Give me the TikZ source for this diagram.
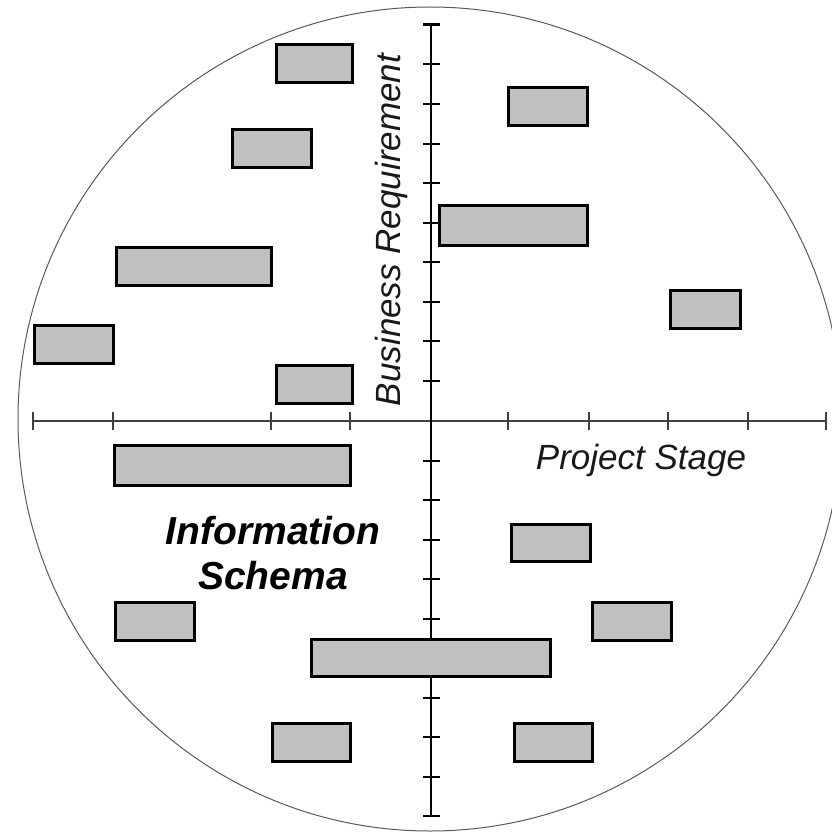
\documentclass[tikz,border=0pt]{standalone}
\usepackage{fontspec}
\setmainfont{Liberation Sans}
\begin{document}
\begin{tikzpicture}[x=1pt,y=-1pt,
  bx/.style={draw=black, fill=boxgray, line width=3pt, inner sep=0pt, minimum height=38pt},
  vtick/.style={line width=2pt, black},
  htick/.style={line width=1.6pt, black!75},
  lbl/.style={font=\fontsize{35}{42}\selectfont\itshape, text=black!90, inner sep=0pt},
  blbl/.style={font=\fontsize{39}{46}\selectfont\bfseries\itshape, text=black, inner sep=0pt}]
\definecolor{boxgray}{RGB}{192,192,192}
\useasboundingbox (0,0) rectangle (832,832);
% circle
\node[circle, draw=black!65, line width=1pt, minimum size=824pt, inner sep=0pt] (rim) at (430,419) {};
% horizontal axis
\coordinate (hl) at (33,421);
\coordinate (hr) at (826,421);
\draw[htick] (hl) -- (hr);
\foreach \x in {33,113,271,350,508,589,668,748,826}
  \draw[htick] (\x,412) -- (\x,430);
% vertical axis
\coordinate (vt) at (431,25);
\coordinate (vb) at (431,816);
\draw[line width=2.4pt] (vt) -- (vb);
\foreach \k in {1,...,9} {
  \draw[vtick] (423,420-39.5*\k) -- (440,420-39.5*\k);
  \draw[vtick] (423,421+39.5*\k) -- (440,421+39.5*\k);
}
\draw[line width=3pt] (423,25) -- (440,25);
\draw[line width=2.4pt] (423,816) -- (440,816);
% boxes
\node[bx, minimum width=76pt] (b1) at (314.5,63.5) {};
\node[bx, minimum width=79pt] (b2) at (272,148.5) {};
\node[bx, minimum width=155pt] (b3) at (194,266.5) {};
\node[bx, minimum width=79pt] (b4) at (74,344) {};
\node[bx, minimum width=76pt] (b5) at (314.5,384) {};
\node[bx, minimum width=79pt] (b6) at (548,106.5) {};
\node[bx, minimum width=148pt, minimum height=40pt] (b7) at (513.5,225.5) {};
\node[bx, minimum width=70pt] (b8) at (705.5,309.5) {};
\node[bx, minimum width=236pt, minimum height=40pt] (b9) at (232.5,465.5) {};
\node[bx, minimum width=79pt] (b10) at (155,621) {};
\node[bx, minimum width=239pt, minimum height=37pt] (b11) at (431,658) {};
\node[bx, minimum width=78pt] (b12) at (311.5,742) {};
\node[bx, minimum width=79pt, minimum height=37pt] (b13) at (551,543) {};
\node[bx, minimum width=79pt] (b14) at (632,621) {};
\node[bx, minimum width=78pt] (b15) at (553.5,742) {};
% labels
\node[lbl, rotate=90, anchor=base] (br) at (400,230) {Business Requirement};
\node[lbl, anchor=base] (ps) at (641,469) {Project Stage};
\node[blbl, anchor=base] (is1) at (273,544) {Information};
\node[blbl, anchor=base] (is2) at (273,589) {Schema};
\end{tikzpicture}
\end{document}
